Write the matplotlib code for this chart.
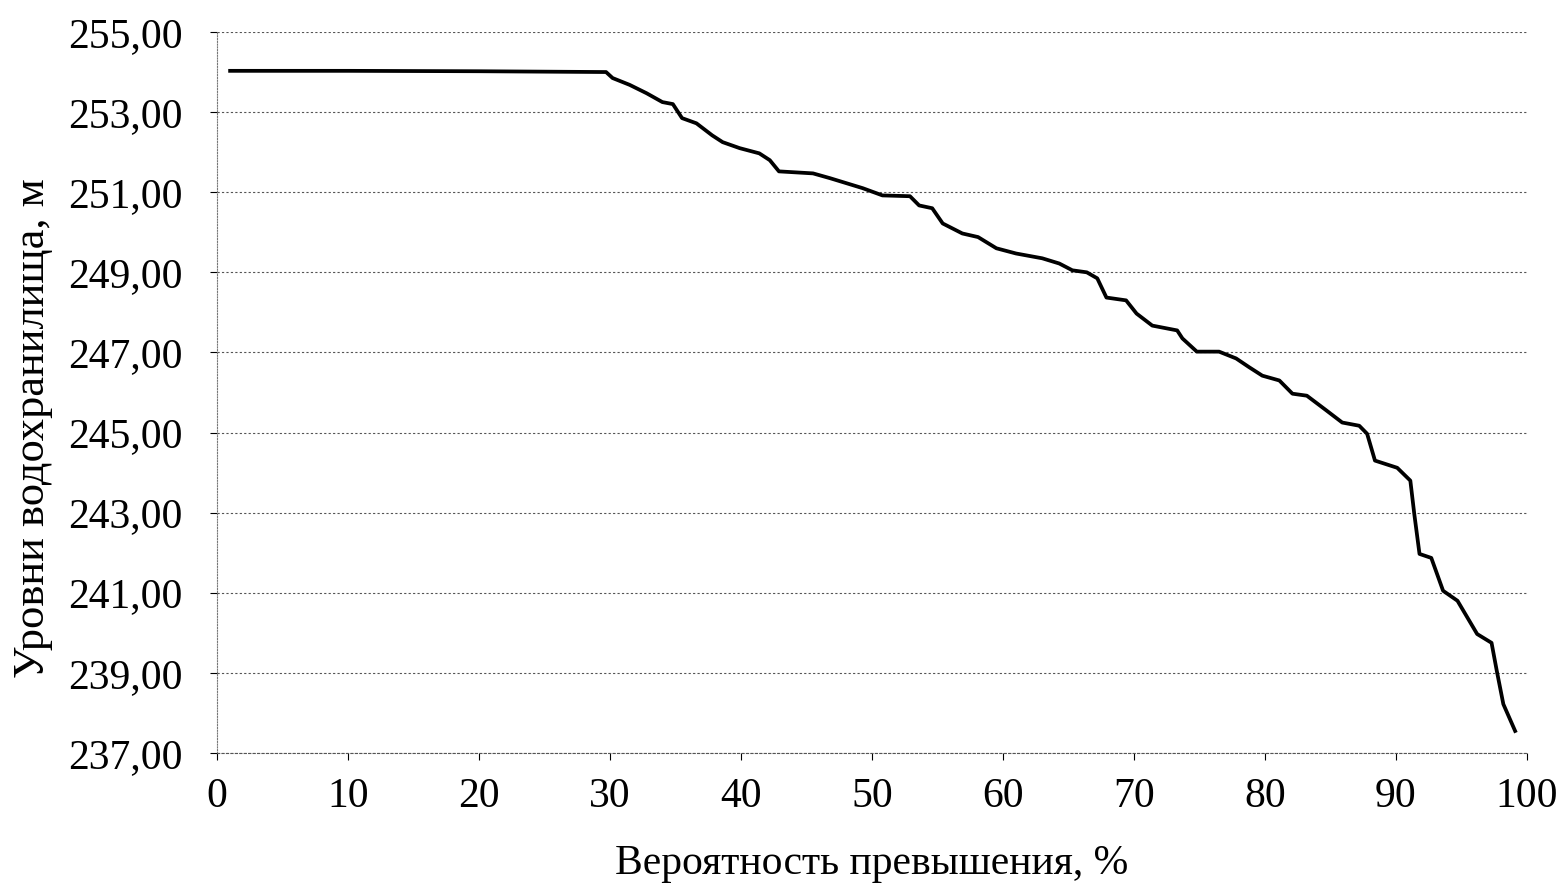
import numpy as np
import matplotlib.pyplot as plt

# Кривая обеспеченности уровней водохранилища
prob = [1.0, 10.0, 20.0, 29.7, 30.2, 31.5, 32.8, 34.0, 34.8, 35.5, 36.6, 37.8, 38.6,
        39.9, 41.4, 42.2, 42.9, 45.5, 46.8, 49.3, 50.8, 52.9, 53.6, 54.6, 55.4,
        56.9, 58.1, 59.5, 61.0, 63.0, 64.3, 65.3, 66.4, 67.2, 67.9, 69.4, 70.2,
        71.4, 73.3, 73.7, 74.8, 76.5, 77.8, 78.8, 79.8, 81.1, 82.1, 83.2, 84.7,
        85.9, 87.2, 87.8, 88.4, 90.1, 91.1, 91.4, 91.8, 92.7, 93.6, 94.7, 96.2,
        97.3, 97.7, 98.2, 99.1]
level = [254.03, 254.03, 254.02, 254.0, 253.85, 253.68, 253.47, 253.25, 253.2,
         252.85, 252.72, 252.42, 252.25, 252.1, 251.97, 251.8, 251.52, 251.47,
         251.35, 251.1, 250.92, 250.9, 250.67, 250.6, 250.22, 249.97, 249.88,
         249.6, 249.47, 249.35, 249.22, 249.05, 249.0, 248.85, 248.37, 248.3,
         247.97, 247.67, 247.55, 247.35, 247.02, 247.02, 246.85, 246.63, 246.42,
         246.3, 245.97, 245.92, 245.55, 245.25, 245.17, 244.97, 244.3, 244.12,
         243.8, 242.97, 241.97, 241.87, 241.05, 240.8, 239.97, 239.75, 239.05,
         238.22, 237.55]

x_ticks = np.arange(0, 101, 10)
y_ticks = np.arange(237, 256, 2)

plt.rcParams['font.family'] = ['Liberation Serif', 'DejaVu Serif']

fig = plt.figure(figsize=(15.68, 8.96), dpi=100)
ax = fig.add_axes([0.1384, 0.1596, 0.8354, 0.8047])

ax.plot(prob, level, color='black', linewidth=2.7, solid_joinstyle='round')

ax.set_xlim(0, 100)
ax.set_ylim(237, 255)
ax.set_xticks(x_ticks)
ax.set_yticks(y_ticks)
ax.set_yticklabels([f'{v:.2f}'.replace('.', ',') for v in y_ticks])
ax.tick_params(labelsize=30, colors='black', length=5, width=0.8)
ax.tick_params(axis='x', pad=13)
ax.tick_params(axis='y', pad=20)

ax.grid(True, axis='y', color='#555555', linestyle=(0, (2, 2)), linewidth=0.8)
for s in ['top', 'right']:
    ax.spines[s].set_visible(False)
ax.spines['left'].set_color('#777777')
ax.spines['left'].set_linestyle((0, (1, 1.5)))
ax.spines['bottom'].set_color('#555555')
ax.spines['bottom'].set_linestyle((0, (2, 2)))

ax.set_xlabel('Вероятность превышения, %', fontsize=30, labelpad=20)
ax.set_ylabel('Уровни водохранилища, м', fontsize=32, labelpad=16)
ax.yaxis.set_label_coords(-0.125, 0.45)

fig.savefig('out.png', dpi=100)
